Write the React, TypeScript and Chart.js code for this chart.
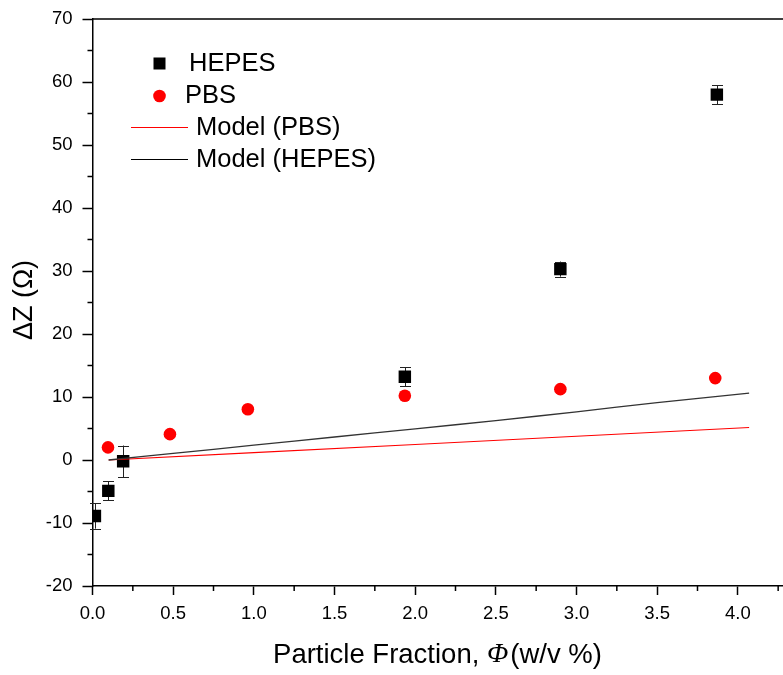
import React, { useEffect, useRef } from "react";
import { Chart, registerables } from "chart.js";

Chart.register(...registerables);

// ---- data ----
const hepesX = [0.015, 0.098, 0.19, 1.936, 2.9, 3.87];
const hepesY = [-8.9, -4.9, -0.2, 13.2, 30.3, 58.0];
const hepesErr = [2.0, 1.5, 2.5, 1.5, 1.2, 1.5];

const pbsX = [0.096, 0.48, 0.963, 1.936, 2.9, 3.86];
const pbsY = [2.0, 4.1, 8.05, 10.2, 11.25, 13.0];

const modelPbsX = [0.1, 1.0, 2.0, 3.0, 4.07];
const modelPbsY = [0.0, 1.17, 2.47, 3.77, 5.15];

const modelHepesX = [0.1, 0.5, 1.0, 1.5, 2.0, 2.5, 3.0, 3.5, 4.07];
const modelHepesY = [0.0, 1.05, 2.35, 3.65, 4.95, 6.25, 7.65, 9.1, 10.6];

const legendLabels = ["HEPES", "PBS", "Model (PBS)", "Model (HEPES)"];
const xTitleA = "Particle Fraction, ";
const xTitlePhi = "\u03A6";
const xTitleB = "(w/v %)";
const yTitle = "\u0394Z (\u03A9)";

const FONT = "Arial, 'Liberation Sans', sans-serif";
const SERIF_IT = "italic 28px 'Liberation Serif', 'Times New Roman', serif";

const decorPlugin = {
  id: "decor",
  beforeDatasetsDraw(chart: any) {
    const ctx = chart.ctx;
    const xs = chart.scales.x;
    const ys = chart.scales.y;
    ctx.save();
    ctx.strokeStyle = "#222";
    ctx.lineWidth = 1;
    for (let i = 0; i < hepesX.length; i++) {
      const px = Math.round(xs.getPixelForValue(hepesX[i])) + 0.5;
      const y1 = ys.getPixelForValue(hepesY[i] + hepesErr[i]);
      const y2 = ys.getPixelForValue(hepesY[i] - hepesErr[i]);
      ctx.beginPath();
      ctx.moveTo(px, y1);
      ctx.lineTo(px, y2);
      ctx.moveTo(px - 5.5, Math.round(y1) + 0.5);
      ctx.lineTo(px + 5.5, Math.round(y1) + 0.5);
      ctx.moveTo(px - 5.5, Math.round(y2) + 0.5);
      ctx.lineTo(px + 5.5, Math.round(y2) + 0.5);
      ctx.stroke();
    }
    ctx.restore();
  },
  afterDraw(chart: any) {
    const ctx = chart.ctx;
    const xs = chart.scales.x;
    const ys = chart.scales.y;
    const ca = chart.chartArea;
    ctx.save();
    ctx.strokeStyle = "#000";
    ctx.lineWidth = 1.5;
    // top border
    ctx.beginPath();
    ctx.moveTo(ca.left, ca.top);
    ctx.lineTo(783, ca.top);
    ctx.stroke();
    // minor ticks
    ctx.beginPath();
    for (let v = -15; v < 70; v += 10) {
      const py = ys.getPixelForValue(v);
      ctx.moveTo(ca.left - 5, py);
      ctx.lineTo(ca.left, py);
    }
    for (let v = 0.25; v < 4.28; v += 0.5) {
      const px = xs.getPixelForValue(v);
      ctx.moveTo(px, ca.bottom);
      ctx.lineTo(px, ca.bottom + 5);
    }
    ctx.stroke();

    // axis titles
    ctx.fillStyle = "#000";
    ctx.textBaseline = "middle";
    ctx.font = `27.5px ${FONT}`;
    const wA = ctx.measureText(xTitleA).width;
    const wB = ctx.measureText(xTitleB).width;
    ctx.font = SERIF_IT;
    const wP = ctx.measureText(xTitlePhi).width + 2;
    const total = wA + wP + wB;
    const sx = 437.5 - total / 2;
    const ty = 655;
    ctx.textAlign = "left";
    ctx.font = `27.5px ${FONT}`;
    ctx.fillText(xTitleA, sx, ty);
    ctx.font = SERIF_IT;
    ctx.fillText(xTitlePhi, sx + wA, ty);
    ctx.font = `27.5px ${FONT}`;
    ctx.fillText(xTitleB, sx + wA + wP, ty);

    ctx.save();
    ctx.translate(25, 300);
    ctx.rotate(-Math.PI / 2);
    ctx.textAlign = "center";
    ctx.font = `27px ${FONT}`;
    ctx.fillText(yTitle, 0, 0);
    ctx.restore();

    // legend
    ctx.font = `25.5px ${FONT}`;
    ctx.textAlign = "left";
    ctx.textBaseline = "middle";
    ctx.fillStyle = "#000";
    ctx.fillRect(159.5 - 6, 63.5 - 6, 12, 12);
    ctx.fillText(legendLabels[0], 189, 64);
    ctx.fillStyle = "#ff0000";
    ctx.beginPath();
    ctx.arc(159.5, 96, 6.3, 0, Math.PI * 2);
    ctx.fill();
    ctx.fillStyle = "#000";
    ctx.fillText(legendLabels[1], 185, 96);
    ctx.lineWidth = 1;
    ctx.strokeStyle = "#ff0000";
    ctx.beginPath();
    ctx.moveTo(131, 127.5);
    ctx.lineTo(188, 127.5);
    ctx.stroke();
    ctx.fillText(legendLabels[2], 196, 128);
    ctx.strokeStyle = "#000";
    ctx.beginPath();
    ctx.moveTo(131, 159.5);
    ctx.lineTo(188, 159.5);
    ctx.stroke();
    ctx.fillText(legendLabels[3], 196, 160);
    ctx.restore();
  },
};

export default function App() {
  const ref = useRef<HTMLCanvasElement | null>(null);
  useEffect(() => {
    if (!ref.current) return;
    const chart = new Chart(ref.current, {
      type: "scatter",
      data: {
        datasets: [
          {
            label: legendLabels[3],
            type: "line",
            data: modelHepesX.map((x, i) => ({ x, y: modelHepesY[i] })),
            borderColor: "#333",
            borderWidth: 1.3,
            pointRadius: 0,
            tension: 0.3,
            showLine: true,
            fill: false,
          },
          {
            label: legendLabels[2],
            type: "line",
            data: modelPbsX.map((x, i) => ({ x, y: modelPbsY[i] })),
            borderColor: "#ff0000",
            borderWidth: 1.1,
            pointRadius: 0,
            showLine: true,
            fill: false,
          },
          {
            label: legendLabels[1],
            data: pbsX.map((x, i) => ({ x, y: pbsY[i] })),
            pointStyle: "circle",
            pointRadius: 6.3,
            backgroundColor: "#ff0000",
            borderColor: "#ff0000",
            borderWidth: 0,
          },
          {
            label: legendLabels[0],
            data: hepesX.map((x, i) => ({ x, y: hepesY[i] })),
            pointStyle: "rect",
            pointRadius: 8.8,
            backgroundColor: "#000",
            borderColor: "#000",
            borderWidth: 0,
          },
        ],
      },
      options: {
        animation: false,
        responsive: false,
        maintainAspectRatio: false,
        layout: { autoPadding: false, padding: { top: 19, right: 0, left: 0, bottom: 0 } },
        plugins: {
          legend: { display: false },
          tooltip: { enabled: false },
        },
        scales: {
          x: {
            type: "linear",
            min: 0,
            max: 4.28,
            afterFit: (s: any) => {
              s.height = 89;
              s.paddingRight = 0;
              s.paddingLeft = 0;
            },
            border: { display: true, color: "#000", width: 1.5 },
            grid: {
              drawOnChartArea: false,
              drawTicks: true,
              tickLength: 9,
              color: "#000",
              tickWidth: 1.5,
            },
            ticks: {
              stepSize: 0.5,
              includeBounds: false,
              color: "#000",
              font: { size: 18.5, family: FONT },
              padding: 8,
              callback: (v: any) => Number(v).toFixed(1),
            },
          },
          y: {
            type: "linear",
            min: -20,
            max: 70,
            afterFit: (s: any) => {
              s.width = 92.5;
              s.paddingTop = 0;
              s.paddingBottom = 0;
            },
            border: { display: true, color: "#000", width: 1.5 },
            grid: {
              drawOnChartArea: false,
              drawTicks: true,
              tickLength: 10,
              color: "#000",
              tickWidth: 1.5,
            },
            ticks: {
              stepSize: 10,
              color: "#000",
              font: { size: 18.5, family: FONT },
              padding: 10,
            },
          },
        },
      },
      plugins: [decorPlugin],
    });
    return () => chart.destroy();
  }, []);
  return (
    <div style={{ position: "absolute", left: 0, top: 0, width: 783, height: 675, background: "#fff" }}>
      <canvas ref={ref} width={783} height={675} style={{ width: 783, height: 675 }} />
    </div>
  );
}
